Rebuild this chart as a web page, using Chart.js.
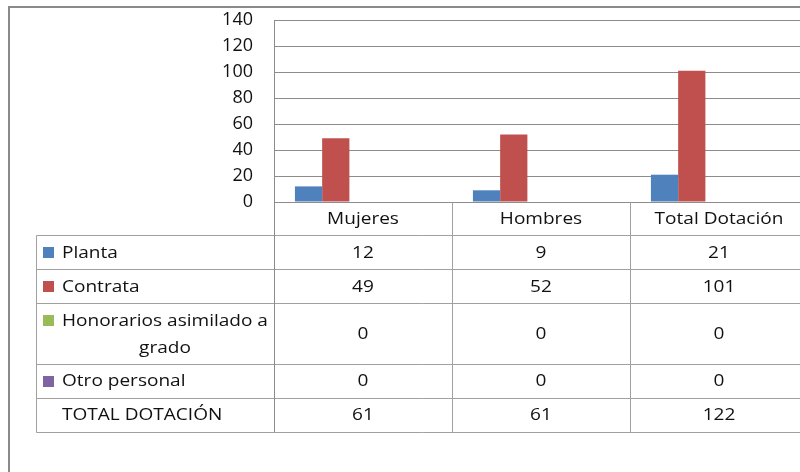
<!DOCTYPE html>
<html><head><meta charset="utf-8">
<script src="https://cdn.jsdelivr.net/npm/chart.js@4/dist/chart.umd.min.js"></script>
<style>
html,body{margin:0;padding:0;background:#fff;overflow:hidden;width:800px;height:472px;}
#wrap{position:absolute;left:0;top:0;width:820px;height:472px;}
</style></head><body>
<div id="wrap"><canvas id="c" width="820" height="472"></canvas></div>
<script>
const categories = ['Mujeres', 'Hombres', 'Total Dotación'];
const planta = [12, 9, 21];
const contrata = [49, 52, 101];
const honorarios = [0, 0, 0];
const otroPersonal = [0, 0, 0];
const totalDotacion = [61, 61, 122];
const rowLabels = [['Planta'], ['Contrata'], ['Honorarios asimilado a', 'grado'], ['Otro personal'], ['TOTAL DOTACIÓN']];
const yMax = 140;
const yStep = 20;

const FONT = 'Open Sans';
const FS = 17;
const SX = 1.12;
const TXT = '#111111';
const GRID = '#8c8c8c';
const TBL = '#a0a0a0';
const colors = ['#4F81BD', '#C0504D', '#9BBB59', '#8064A2', 'rgba(0,0,0,0)'];

function sText(ctx, str, x, y, align) {
  const w = ctx.measureText(str).width * SX;
  const x0 = align === 'center' ? x - w / 2 : x;
  ctx.save();
  ctx.translate(x0, y);
  ctx.scale(SX, 1);
  ctx.textAlign = 'left';
  ctx.fillText(str, 0, 0);
  ctx.restore();
}

const tablePlugin = {
  id: 'dataTable',
  beforeDraw(chart) {
    const ctx = chart.ctx;
    ctx.save();
    ctx.strokeStyle = '#8a8a8a';
    ctx.lineWidth = 2;
    ctx.beginPath();
    ctx.moveTo(9, 472); ctx.lineTo(9, 7); ctx.lineTo(chart.width, 7);
    ctx.stroke();
    ctx.restore();
  },
  afterDraw(chart) {
    const ctx = chart.ctx, xs = chart.scales.x, ca = chart.chartArea;
    const n = categories.length;
    const catW = (ca.right - ca.left) / n;
    const bounds = [];
    for (let i = 0; i <= n; i++) bounds.push(Math.round(ca.left + i * catW) + 0.5);
    const rowH = [33, 33.5, 34.5, 60.5, 34, 34];
    const ys = [ca.bottom];
    rowH.forEach(h => ys.push(ys[ys.length - 1] + h));
    const yl = ys.map(v => Math.round(v) + 0.5);
    const tableLeft = 36.5;
    const last = yl.length - 1;
    ctx.save();
    ctx.strokeStyle = TBL;
    ctx.lineWidth = 1;
    ctx.beginPath();
    for (let i = 1; i <= last; i++) { ctx.moveTo(tableLeft, yl[i]); ctx.lineTo(ca.right, yl[i]); }
    ctx.moveTo(tableLeft, yl[1]); ctx.lineTo(tableLeft, yl[last]);
    for (let i = 1; i <= n; i++) { ctx.moveTo(bounds[i], yl[0]); ctx.lineTo(bounds[i], yl[last]); }
    ctx.stroke();
    ctx.strokeStyle = GRID;
    ctx.beginPath();
    ctx.moveTo(bounds[0], ca.top); ctx.lineTo(bounds[0], yl[last]);
    ctx.stroke();

    ctx.fillStyle = TXT;
    ctx.font = FS + 'px "' + FONT + '"';
    ctx.textBaseline = 'middle';
    categories.forEach((c, i) => sText(ctx, c, xs.getPixelForValue(i), (ys[0] + ys[1]) / 2 + 1, 'center'));

    chart.data.datasets.forEach((ds, r) => {
      const top = ys[r + 1], bot = ys[r + 2], mid = (top + bot) / 2 + 1;
      const lines = rowLabels[r];
      const textX = 62;
      const lineH = 27;
      const firstY = mid - (lines.length - 1) * lineH / 2;
      if (r < 4) {
        ctx.fillStyle = colors[r];
        ctx.fillRect(43, Math.round(firstY - 6), 11, 11);
      }
      ctx.fillStyle = TXT;
      sText(ctx, lines[0], textX, firstY, 'left');
      if (lines.length > 1) {
        const w0 = ctx.measureText(lines[0]).width * SX;
        for (let k = 1; k < lines.length; k++) sText(ctx, lines[k], textX + w0 / 2, firstY + k * lineH, 'center');
      }
      ds.data.forEach((v, i) => sText(ctx, String(v), xs.getPixelForValue(i), mid, 'center'));
    });
    ctx.restore();
  }
};

const seriesData = [planta, contrata, honorarios, otroPersonal, totalDotacion];
new Chart(document.getElementById('c'), {
  type: 'bar',
  data: {
    labels: categories,
    datasets: seriesData.map((d, i) => ({
      label: rowLabels[i].join(' '),
      data: d,
      backgroundColor: colors[i],
      borderWidth: 0,
      categoryPercentage: 0.765,
      barPercentage: 1.0
    }))
  },
  options: {
    responsive: false,
    animation: false,
    layout: { padding: { left: 0, top: 20, right: 12, bottom: 270 } },
    plugins: { legend: { display: false }, tooltip: { enabled: false } },
    scales: {
      x: { display: false },
      y: {
        min: 0, max: yMax,
        ticks: { stepSize: yStep, padding: 21, color: TXT, font: { family: FONT, size: 18 } },
        grid: { color: GRID, drawTicks: false },
        border: { display: false },
        afterFit(s) { s.width = 274; s.paddingTop = 0; s.paddingBottom = 0; }
      }
    }
  },
  plugins: [tablePlugin]
});
</script>
</body></html>
